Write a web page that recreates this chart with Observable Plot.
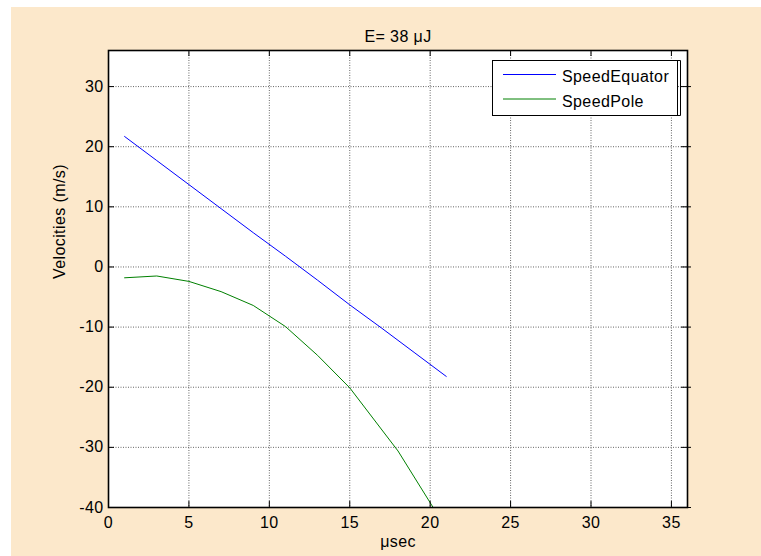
<!DOCTYPE html>
<html>
<head>
<meta charset="utf-8">
<script src="https://cdn.jsdelivr.net/npm/d3@7"></script>
<script src="https://cdn.jsdelivr.net/npm/@observablehq/plot@0.6"></script>
<style>
  body { margin: 0; background: #ffffff; }
  #wrap { position: relative; width: 761px; height: 556px; }
  #chart { position: absolute; left: 11px; top: 7px; }
  #legend { position: absolute; left: 0; top: 0; pointer-events: none; }
</style>
</head>
<body>
<div id="wrap"><div id="chart"></div><svg id="legend" width="761" height="556"></svg></div>
<script>
// ---- data ----
const titleText = "E= 38 \u03bcJ";
const xLabel = "\u03bcsec";
const yLabel = "Velocities (m/s)";
const seriesNames = ["SpeedEquator", "SpeedPole"];
const xTicks = [0, 5, 10, 15, 20, 25, 30, 35];
const yTicks = [-40, -30, -20, -10, 0, 10, 20, 30];
const equatorTimes = [1, 3, 5, 7, 9, 11, 13, 15, 17, 19, 21];
const speedEquator = [21.7, 17.7, 13.7, 9.7, 5.7, 1.8, -2.2, -6.3, -10.2, -14.2, -18.2];
const poleTimes = [1, 3, 5, 7, 9, 11, 13, 15, 18, 21];
const speedPole = [-1.8, -1.5, -2.4, -4.1, -6.4, -9.9, -14.7, -20.1, -30.6, -43.5];

// ---- styles ----
const colors = ["#0000ff", "#008000"];
const bg = "#fce8cb";
const font = "'Liberation Sans', Arial, sans-serif";

const eqData = equatorTimes.map((t, i) => ({t, v: speedEquator[i]}));
const poleData = poleTimes.map((t, i) => ({t, v: speedPole[i]}));
const fmt = d => String(d);
const gridStyle = {stroke: "#555", strokeOpacity: 0.9, strokeWidth: 1, strokeDasharray: "1,1.5"};

const chart = Plot.plot({
  width: 750,
  height: 549,
  marginLeft: 97,
  marginRight: 74,
  marginTop: 43,
  marginBottom: 49,
  style: {background: bg, fontFamily: font, fontSize: "16px", letterSpacing: "0.4px", color: "#000"},
  x: {domain: [0, 36]},
  y: {domain: [-40, 36]},
  marks: [
    Plot.frame({fill: "white"}),
    Plot.gridX(xTicks.slice(1), gridStyle),
    Plot.gridY(yTicks.slice(1), gridStyle),
    Plot.line(eqData, {x: "t", y: "v", stroke: colors[0], strokeWidth: 1}),
    Plot.line(poleData, {x: "t", y: "v", stroke: colors[1], strokeWidth: 1, clip: true}),
    Plot.frame({stroke: "#000", strokeWidth: 1.6}),
    Plot.axisX(xTicks, {anchor: "bottom", tickSize: -6, tickPadding: 15, tickFormat: fmt, label: null, fontSize: 16, stroke: "#000"}),
    Plot.axisX(xTicks, {anchor: "top", tickSize: -5, tickFormat: () => "", label: null, stroke: "#000"}),
    Plot.axisY(yTicks, {anchor: "left", tickSize: -6, tickPadding: 11, tickFormat: fmt, label: null, fontSize: 16, stroke: "#000"}),
    Plot.axisY(yTicks, {anchor: "right", tickSize: -7, tickFormat: () => "", label: null, stroke: "#000"}),
    Plot.axisY(yTicks, {anchor: "right", tickSize: 3, tickFormat: () => "", label: null, stroke: "#000"}),
    Plot.text([titleText], {frameAnchor: "top", dy: -20, fontSize: 16, fill: "#000"}),
    Plot.text([xLabel], {frameAnchor: "bottom", dy: 39, fontSize: 16, fill: "#000"}),
    Plot.text([yLabel], {frameAnchor: "left", dx: -49, rotate: -90, fontSize: 16, fill: "#000"})
  ]
});
document.getElementById("chart").appendChild(chart);

// ---- legend overlay ----
const lg = d3.select("#legend");
lg.append("rect").attr("x", 492.5).attr("y", 60.5).attr("width", 185).attr("height", 55)
  .attr("fill", "white").attr("stroke", "#000").attr("stroke-width", 1);
lg.append("path").attr("d", "M677,60.5H680.5V115.5H677").attr("fill", "none").attr("stroke", "#000").attr("stroke-width", 1);
seriesNames.forEach((name, i) => {
  const y = 74.5 + i * 24.5;
  lg.append("line").attr("x1", 503).attr("x2", 556).attr("y1", y).attr("y2", y)
    .attr("stroke", colors[i]).attr("stroke-width", 1);
  lg.append("text").attr("x", 562).attr("y", y + 7.5).text(name)
    .attr("font-family", font).attr("font-size", 16).attr("letter-spacing", "0.4px").attr("fill", "#000");
});
</script>
</body>
</html>
